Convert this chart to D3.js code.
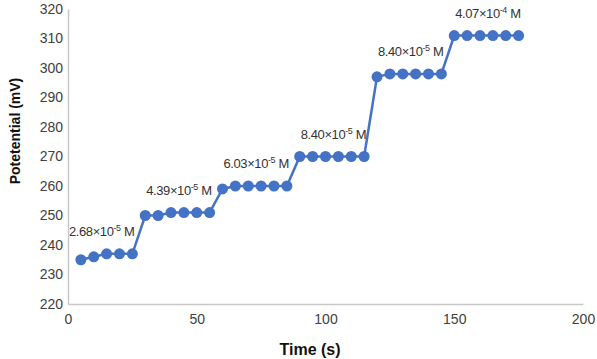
<!DOCTYPE html>
<html>
<head>
<meta charset="utf-8">
<script src="https://cdn.jsdelivr.net/npm/d3@7"></script>
<style>
    body { margin: 0; background: #fff; }
    .axis path { stroke: #c8c8c8; stroke-width: 1.5; }
    .axis .tick line { display: none; }
    .axis .tick text { font-family: "Liberation Sans", Arial, sans-serif; font-size: 14px; fill: #404040; }
    .axis-title { font-family: "Liberation Sans", Arial, sans-serif; font-weight: bold; fill: #111; }
    .conc-label { font-family: "Liberation Sans", Arial, sans-serif; font-size: 13px; letter-spacing: -0.4px; fill: #333; }
</style>
</head>
<body>
<div id="chart"></div>
<script>
// time (s) of each reading
const times = [5, 10, 15, 20, 25,
    30, 35, 40, 45, 50, 55,
    60, 65, 70, 75, 80, 85,
    90, 95, 100, 105, 110, 115,
    120, 125, 130, 135, 140, 145,
    150, 155, 160, 165, 170, 175];

// potential (mV)
const potentials = [235, 236, 237, 237, 237,
    250, 250, 251, 251, 251, 251,
    259, 260, 260, 260, 260, 260,
    270, 270, 270, 270, 270, 270,
    297, 298, 298, 298, 298, 298,
    311, 311, 311, 311, 311, 311];

// concentration labels, attached to the last reading of each step
const labelTimes = [25, 55, 85, 115, 145, 175];
const labelMantissa = ["2.68", "4.39", "6.03", "8.40", "8.40", "4.07"];
const labelExponent = ["-5", "-5", "-5", "-5", "-5", "-4"];

const xTicks = [0, 50, 100, 150, 200];
const yTicks = [220, 230, 240, 250, 260, 270, 280, 290, 300, 310, 320];

class LineChart {
    constructor(_config, _data) {
        this.config = {
            parentElement: _config.parentElement,
            containerWidth: 597,
            containerHeight: 359,
            margin: { top: 9, right: 14, bottom: 55, left: 68 }
        };
        this.data = _data;
        this.initVis();
    }

    initVis() {
        let vis = this;
        vis.config.width = vis.config.containerWidth - vis.config.margin.left - vis.config.margin.right;
        vis.config.height = vis.config.containerHeight - vis.config.margin.top - vis.config.margin.bottom;

        vis.svgRoot = d3.select(vis.config.parentElement)
            .append("svg")
            .attr("width", vis.config.containerWidth)
            .attr("height", vis.config.containerHeight);

        vis.svg = vis.svgRoot.append("g")
            .attr("transform", `translate(${vis.config.margin.left},${vis.config.margin.top})`);

        vis.xScale = d3.scaleLinear().domain([0, 200]).range([0, vis.config.width]);
        vis.yScale = d3.scaleLinear().domain([220, 320]).range([vis.config.height, 0]);

        vis.xAxis = d3.axisBottom(vis.xScale).tickValues(xTicks).tickSize(0).tickPadding(10);
        vis.yAxis = d3.axisLeft(vis.yScale).tickValues(yTicks).tickSize(0).tickPadding(5);

        vis.svg.append("g")
            .attr("class", "x-axis axis")
            .attr("transform", `translate(0,${vis.config.height})`)
            .call(vis.xAxis);

        vis.svg.append("g")
            .attr("class", "y-axis axis")
            .call(vis.yAxis);

        vis.svgRoot.append("text")
            .attr("class", "axis-title")
            .attr("x", 310)
            .attr("y", 355)
            .attr("text-anchor", "middle")
            .style("font-size", "16px")
            .text("Time (s)");

        vis.svgRoot.append("text")
            .attr("class", "axis-title")
            .attr("transform", "translate(20,131) rotate(-90)")
            .attr("text-anchor", "middle")
            .style("font-size", "14px")
            .text("Potetential (mV)");

        vis.updateVis();
    }

    updateVis() {
        let vis = this;
        const color = "#4472c4";

        const line = d3.line()
            .x(d => vis.xScale(d.time))
            .y(d => vis.yScale(d.value));

        vis.svg.append("path")
            .datum(vis.data)
            .attr("fill", "none")
            .attr("stroke", color)
            .attr("stroke-width", 2.5)
            .attr("d", line);

        vis.svg.selectAll(".dot")
            .data(vis.data)
            .enter().append("circle")
            .attr("class", "dot")
            .attr("cx", d => vis.xScale(d.time))
            .attr("cy", d => vis.yScale(d.value))
            .attr("r", 5.5)
            .attr("fill", color);

        const labels = labelTimes.map((t, i) => ({
            time: t,
            value: vis.data.find(d => d.time === t).value,
            mantissa: labelMantissa[i],
            exponent: labelExponent[i]
        }));

        const txt = vis.svg.selectAll(".conc-label")
            .data(labels)
            .enter().append("text")
            .attr("class", "conc-label")
            .attr("text-anchor", "end")
            .attr("x", d => vis.xScale(d.time) + 2)
            .attr("y", d => vis.yScale(d.value) - 18);

        txt.append("tspan").text(d => d.mantissa + "×10");
        txt.append("tspan").attr("font-size", "9px").attr("dy", -5).text(d => d.exponent);
        txt.append("tspan").attr("dy", 5).text(" M");
    }
}

const data = times.map((t, i) => ({ time: t, value: potentials[i] }));
new LineChart({ parentElement: "#chart" }, data);
</script>
</body>
</html>
